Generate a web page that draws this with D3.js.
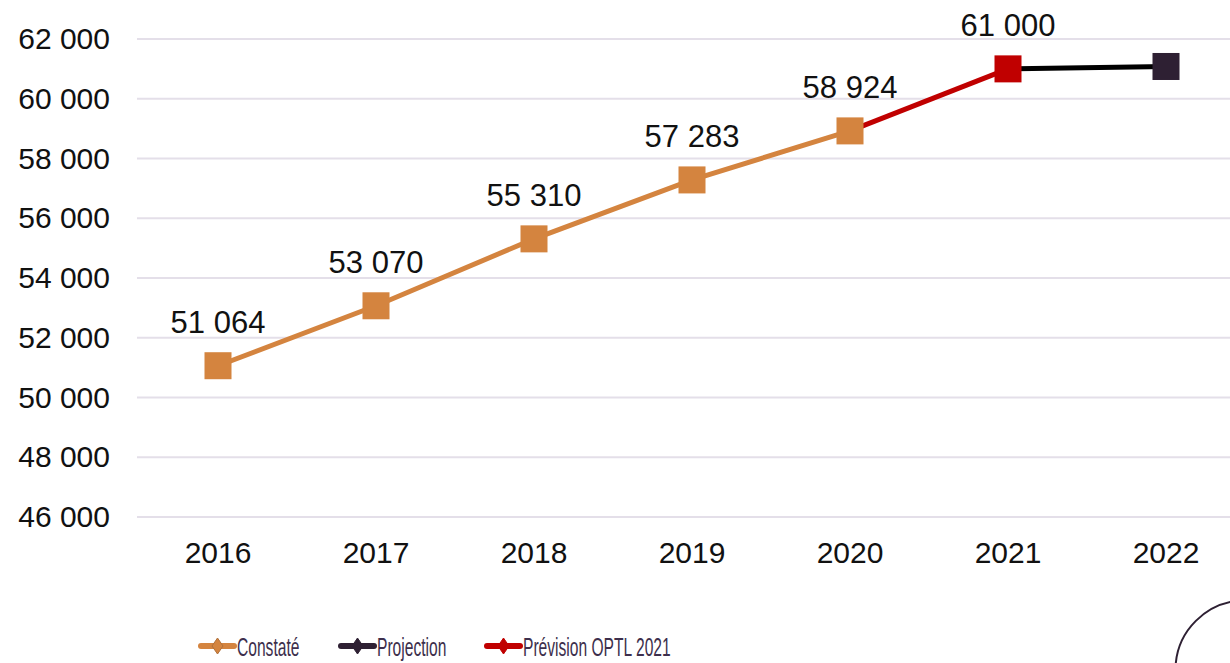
<!DOCTYPE html>
<html>
<head>
<meta charset="utf-8">
<script src="https://cdn.jsdelivr.net/npm/d3@7"></script>
<style>
  body { margin: 0; background: #fff; }
  svg { display: block; font-family: "Liberation Sans", Arial, sans-serif; }
</style>
</head>
<body>
<svg id="chart" width="1230" height="663"></svg>
<script>
// data
var years = ["2016", "2017", "2018", "2019", "2020", "2021", "2022"];
var constate = [51064, 53070, 55310, 57283, 58924];          // 2016-2020
var prevision = [58924, 61000];                              // 2020-2021
var projection = [61000, 61080];                             // 2021-2022
var labels = [51064, 53070, 55310, 57283, 58924, 61000];
var yTicks = [46000, 48000, 50000, 52000, 54000, 56000, 58000, 60000, 62000];
var legendNames = ["Constaté", "Projection", "Prévision OPTL 2021"];

var orange = "#d4843f", red = "#c00000", dark = "#2e2033";

var svg = d3.select("#chart");

var x = d3.scaleBand().domain(years).range([139, 1245]);
var y = d3.scaleLinear().domain([46000, 62000]).range([517, 39]);
var cx = function(yr) { return x(yr) + x.bandwidth() / 2; };
var fmt = function(v) { return d3.format(",")(v).replace(/,/g, " "); };

// gridlines
svg.append("g").selectAll("line").data(yTicks).enter().append("line")
  .attr("x1", 137).attr("x2", 1230)
  .attr("y1", d => y(d)).attr("y2", d => y(d))
  .attr("stroke", "#e4dfe9").attr("stroke-width", 2);

// y axis labels
var yAxis = svg.append("g").attr("transform", "translate(110,0)")
  .call(d3.axisLeft(y).tickValues(yTicks).tickSize(0).tickPadding(0).tickFormat(fmt));
yAxis.select(".domain").remove();
yAxis.selectAll("text").attr("font-size", 30).attr("fill", "#111").attr("font-family", "Liberation Sans, Arial");

// x axis labels
var xAxis = svg.append("g").attr("transform", "translate(0,533)")
  .call(d3.axisBottom(x).tickSize(0).tickPadding(0));
xAxis.select(".domain").remove();
xAxis.selectAll("text").attr("font-size", 30).attr("fill", "#111").attr("dy", "1em").attr("font-family", "Liberation Sans, Arial");

var line = d3.line().x(d => cx(d[0])).y(d => y(d[1]));
function series(yrs, vals) { return yrs.map((yr, i) => [yr, vals[i]]); }

var sConst = series(years.slice(0, 5), constate);
var sPrev = series(["2020", "2021"], prevision);
var sProj = series(["2021", "2022"], projection);

svg.append("path").datum(sProj).attr("d", line).attr("fill", "none").attr("stroke", "#000").attr("stroke-width", 5);
svg.append("path").datum(sPrev).attr("d", line).attr("fill", "none").attr("stroke", red).attr("stroke-width", 5);
svg.append("path").datum(sConst).attr("d", line).attr("fill", "none").attr("stroke", orange).attr("stroke-width", 5);

// markers
var ms = 27;
function markers(data, col) {
  svg.append("g").selectAll("rect").data(data).enter().append("rect")
    .attr("x", d => cx(d[0]) - ms / 2).attr("y", d => y(d[1]) - ms / 2)
    .attr("width", ms).attr("height", ms).attr("fill", col);
}
markers(sProj.slice(1), dark);
markers(sPrev.slice(1), red);
markers(sConst, orange);

// data labels
svg.append("g").selectAll("text").data(labels).enter().append("text")
  .attr("x", (d, i) => cx(years[i]))
  .attr("y", d => y(d) - 33)
  .attr("text-anchor", "middle").attr("font-size", 31).attr("fill", "#111")
  .text(d => fmt(d));

// legend
var legX = [201, 341, 487];
var legCol = [orange, dark, red];
var leg = svg.append("g").selectAll("g").data(legendNames).enter().append("g")
  .attr("transform", (d, i) => "translate(" + legX[i] + ",646)");
leg.append("line").attr("x1", 0).attr("x2", 33).attr("y1", 0).attr("y2", 0)
  .attr("stroke", (d, i) => legCol[i]).attr("stroke-width", 6).attr("stroke-linecap", "round");
leg.append("path").attr("d", "M16.5,-8L22,0L16.5,8L11,0Z")
  .attr("fill", (d, i) => legCol[i]).attr("stroke", (d, i) => i === 0 ? "#b0703a" : legCol[i]).attr("stroke-width", 1);
leg.append("text").attr("transform", "translate(36,0) scale(0.6,1)")
  .attr("y", 10).attr("font-size", 26).attr("fill", "#3d2f4c")
  .text(d => d);

// decorative circle at bottom right
svg.append("circle").attr("cx", 1245).attr("cy", 670).attr("r", 69.5)
  .attr("fill", "none").attr("stroke", dark).attr("stroke-width", 2);
</script>
</body>
</html>
